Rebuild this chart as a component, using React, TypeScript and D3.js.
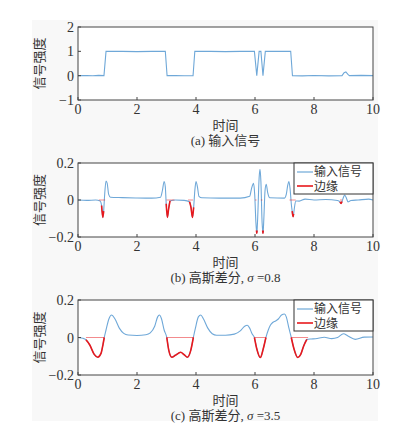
import * as d3 from "d3";

// 时间轴刻度与纵轴刻度
const timeTicks = [0, 2, 4, 6, 8, 10];
const inputTicks = [-1, 0, 1, 2];
const dogTicks = [-0.2, 0, 0.2];

// (a) 输入信号 [时间, 强度]
const inputSignal: [number, number][] = [
  [0, 0], [0.3, 0.005], [0.5, -0.005], [0.7, 0.01], [0.88, 0], [0.95, 1],
  [1.5, 1], [2.0, 0.99], [2.5, 1], [2.96, 1], [3.02, 0], [3.3, 0.005],
  [3.6, -0.005], [3.9, 0], [3.96, 1], [4.5, 1], [5.0, 0.99], [5.5, 1],
  [5.98, 1], [6.06, 0], [6.14, 1], [6.2, 1], [6.27, 0], [6.35, 1],
  [6.8, 1], [7.21, 1], [7.27, 0], [7.6, -0.01], [8.0, 0.005], [8.5, -0.01],
  [8.95, 0], [9.02, 0.12], [9.08, 0.15], [9.15, 0.05], [9.2, 0], [9.6, 0.01], [10, 0],
];

// (b) 高斯差分 σ=0.8
const dogNarrow: [number, number][] = [
  [0, 0], [0.3, -0.002], [0.6, 0], [0.75, -0.005], [0.8, -0.03], [0.84, -0.094],
  [0.87, -0.06], [0.9, 0.02], [0.95, 0.103], [0.99, 0.09], [1.04, 0.03], [1.1, 0.015],
  [1.5, 0.013], [2.0, 0.011], [2.5, 0.01], [2.8, 0.015], [2.86, 0.05], [2.92, 0.1],
  [2.96, 0.07], [2.99, -0.02], [3.03, -0.094], [3.07, -0.05], [3.12, -0.005],
  [3.3, 0], [3.6, -0.002], [3.78, -0.01], [3.83, -0.04], [3.88, -0.094], [3.92, -0.04],
  [3.96, 0.05], [4.0, 0.1], [4.05, 0.07], [4.1, 0.02], [4.2, 0.012], [4.8, 0.01],
  [5.5, 0.01], [5.82, 0.02], [5.88, 0.06], [5.95, 0.09], [5.99, 0.03], [6.03, -0.12],
  [6.05, -0.165], [6.06, -0.18], [6.07, -0.165], [6.09, -0.1], [6.14, 0.12], [6.17, 0.166],
  [6.2, 0.1], [6.24, -0.12], [6.26, -0.165], [6.27, -0.18], [6.28, -0.165], [6.3, -0.1],
  [6.34, 0.05], [6.38, 0.085], [6.43, 0.04], [6.5, 0.012], [7.0, 0.01], [7.06, 0.03],
  [7.11, 0.08], [7.15, 0.1], [7.19, 0.06], [7.23, -0.02], [7.26, -0.06], [7.29, -0.09],
  [7.31, -0.075], [7.33, -0.05], [7.38, -0.005], [7.5, -0.006], [7.7, 0.005], [8.0, 0],
  [8.4, 0.003], [8.8, -0.003], [8.88, -0.01], [8.92, -0.018], [8.95, -0.008], [9.0, 0.015],
  [9.04, 0.027], [9.1, 0.01], [9.15, -0.01], [9.25, -0.003], [9.5, 0], [9.85, 0.005], [10, 0],
];
const edgeNarrowCurve: [number, number][] = [
  [0.8, 0.87], [2.99, 3.12], [3.78, 3.92], [6.05, 6.07], [6.26, 6.28], [7.26, 7.31], [8.88, 8.95],
];
const edgeNarrowZero: [number, number][] = [
  [0.71, 0.92], [3.0, 3.27], [3.73, 3.9], [6.0, 6.05], [6.2, 6.25], [7.17, 7.38], [8.88, 8.95],
];

// (c) 高斯差分 σ=3.5
const dogWide: [number, number][] = [
  [0, 0], [0.1, -0.002], [0.2, -0.006], [0.27, -0.012], [0.4, -0.04], [0.55, -0.09],
  [0.67, -0.105], [0.78, -0.085], [0.85, -0.035], [0.89, 0], [0.95, 0.04], [1.05, 0.1],
  [1.14, 0.12], [1.25, 0.1], [1.4, 0.05], [1.55, 0.022], [1.7, 0.013], [2.0, 0.011],
  [2.3, 0.015], [2.45, 0.025], [2.6, 0.06], [2.7, 0.11], [2.76, 0.12], [2.83, 0.1],
  [2.92, 0.04], [3.01, 0], [3.08, -0.07], [3.18, -0.105], [3.3, -0.095], [3.48, -0.079],
  [3.6, -0.092], [3.71, -0.105], [3.82, -0.07], [3.91, 0], [3.98, 0.05], [4.08, 0.11],
  [4.16, 0.12], [4.25, 0.1], [4.4, 0.05], [4.55, 0.02], [4.7, 0.012], [5.0, 0.012],
  [5.3, 0.018], [5.5, 0.035], [5.65, 0.06], [5.74, 0.065], [5.82, 0.05], [5.9, 0.02],
  [5.98, 0], [6.06, -0.06], [6.18, -0.107], [6.28, -0.06], [6.37, 0], [6.45, 0.04],
  [6.52, 0.065], [6.6, 0.08], [6.7, 0.088], [6.8, 0.1], [6.9, 0.12], [7.0, 0.125],
  [7.06, 0.11], [7.15, 0.05], [7.23, 0], [7.32, -0.06], [7.45, -0.107], [7.55, -0.09],
  [7.65, -0.045], [7.76, -0.01], [7.9, -0.008], [8.05, -0.007], [8.35, 0.001], [8.6, -0.006],
  [8.8, 0], [9.0, 0.02], [9.15, 0.008], [9.4, -0.01], [9.7, 0.002], [10, 0.003],
];
const edgeWideCurve: [number, number][] = [[0.27, 0.89], [3.01, 3.91], [5.98, 6.37], [7.23, 7.76]];
const edgeWideZero: [number, number][] = [[0.27, 0.89], [3.0, 3.93], [5.98, 6.37], [7.23, 7.8]];

const BLUE = "#6fa8d8";
const RED = "#e8181c";
const TEXT = "#333";
const FONT = "'Liberation Serif', 'Noto Sans CJK SC', serif";
const LEFT = 78;
const RIGHT = 373;

const fmt = (d: number) => (d < 0 ? "\u2212" + Math.abs(d) : String(d));

type PanelProps = {
  id: string;
  top: number;
  bottom: number;
  series: [number, number][];
  yDomain: [number, number];
  yTicks: number[];
  smooth: boolean;
  caption: React.ReactNode;
  edgeCurve?: [number, number][];
  edgeZero?: [number, number][];
};

function Panel({ id, top, bottom, series, yDomain, yTicks, smooth, caption, edgeCurve, edgeZero }: PanelProps) {
  const x = d3.scaleLinear().domain([0, 10]).range([LEFT, RIGHT]);
  const y = d3.scaleLinear().domain(yDomain).range([bottom, top]);
  const line = d3
    .line<[number, number]>()
    .x((d) => x(d[0]))
    .y((d) => y(d[1]))
    .curve(smooth ? d3.curveMonotoneX : d3.curveLinear);

  // 边缘曲线取自同一序列的子区间
  const redParts = (edgeCurve ?? []).map(([a, b]) =>
    series.filter((p) => p[0] >= a - 1e-6 && p[0] <= b + 1e-6)
  );
  const midY = (top + bottom) / 2;

  return (
    <g>
      <defs>
        <clipPath id={"clip-" + id}>
          <rect x={LEFT} y={top} width={RIGHT - LEFT} height={bottom - top} />
        </clipPath>
      </defs>
      <rect x={LEFT} y={top} width={RIGHT - LEFT} height={bottom - top} fill="#fff" />
      <g clipPath={`url(#clip-${id})`}>
        <path d={line(series) ?? ""} fill="none" stroke={BLUE} strokeWidth={1.1} />
        {(edgeZero ?? []).map(([a, b], i) => (
          <line key={"z" + i} x1={x(a)} x2={x(b)} y1={y(0)} y2={y(0)} stroke={RED} strokeOpacity={0.5} strokeWidth={1} />
        ))}
        {redParts.map((pts, i) => (
          <path key={"r" + i} d={line(pts) ?? ""} fill="none" stroke={RED} strokeWidth={1.6} />
        ))}
      </g>
      <rect x={LEFT} y={top} width={RIGHT - LEFT} height={bottom - top} fill="none" stroke="#444" strokeWidth={1} />
      {timeTicks.map((t) => (
        <g key={"x" + t}>
          <line x1={x(t)} x2={x(t)} y1={bottom} y2={bottom - 3} stroke="#444" />
          <text x={x(t)} y={bottom + 14} textAnchor="middle" fontSize={14} fill={TEXT} fontFamily={FONT}>
            {t}
          </text>
        </g>
      ))}
      {yTicks.map((t) => (
        <g key={"y" + t}>
          <line x1={LEFT} x2={LEFT + 3} y1={y(t)} y2={y(t)} stroke="#444" />
          <text x={LEFT - 4} y={y(t) + 5} textAnchor="end" fontSize={14} fill={TEXT} fontFamily={FONT}>
            {fmt(t)}
          </text>
        </g>
      ))}
      <text
        transform={`translate(44,${midY}) rotate(-90)`}
        textAnchor="middle"
        fontSize={13}
        fill={TEXT}
        fontFamily={FONT}
      >
        信号强度
      </text>
      <text x={(LEFT + RIGHT) / 2} y={bottom + 30} textAnchor="middle" fontSize={13} fill={TEXT} fontFamily={FONT}>
        时间
      </text>
      <text x={(LEFT + RIGHT) / 2} y={bottom + 45} textAnchor="middle" fontSize={13} fill={TEXT} fontFamily={FONT}>
        {caption}
      </text>
    </g>
  );
}

function Legend({ top }: { top: number }) {
  const x0 = 294;
  return (
    <g>
      <rect x={x0} y={top} width={RIGHT - x0} height={31} fill="#fff" stroke="#333" strokeWidth={1} />
      <line x1={x0 + 3} x2={x0 + 19} y1={top + 9} y2={top + 9} stroke={BLUE} strokeWidth={1.2} />
      <text x={x0 + 20} y={top + 13} fontSize={12} fill={TEXT} fontFamily={FONT}>
        输入信号
      </text>
      <line x1={x0 + 3} x2={x0 + 19} y1={top + 23} y2={top + 23} stroke={RED} strokeWidth={1.6} />
      <text x={x0 + 20} y={top + 27.5} fontSize={12} fill={TEXT} fontFamily={FONT}>
        边缘
      </text>
    </g>
  );
}

export default function App() {
  return (
    <svg width={400} height={433} style={{ position: "absolute", left: 0, top: 0, background: "#fff" }}>
      <rect x={32} y={20} width={346} height={401} fill="#f8f8f8" />
      <Panel
        id="a"
        top={27}
        bottom={100}
        series={inputSignal}
        yDomain={[-1, 2]}
        yTicks={inputTicks}
        smooth={false}
        caption={"(a) 输入信号"}
      />
      <Panel
        id="b"
        top={163}
        bottom={237}
        series={dogNarrow}
        yDomain={[-0.2, 0.2]}
        yTicks={dogTicks}
        smooth={true}
        edgeCurve={edgeNarrowCurve}
        edgeZero={edgeNarrowZero}
        caption={
          <>
            (b) 高斯差分, <tspan fontStyle="italic">σ</tspan> =0.8
          </>
        }
      />
      <Legend top={163} />
      <Panel
        id="c"
        top={300}
        bottom={375}
        series={dogWide}
        yDomain={[-0.2, 0.2]}
        yTicks={dogTicks}
        smooth={true}
        edgeCurve={edgeWideCurve}
        edgeZero={edgeWideZero}
        caption={
          <>
            (c) 高斯差分, <tspan fontStyle="italic">σ</tspan> =3.5
          </>
        }
      />
      <Legend top={300} />
    </svg>
  );
}
